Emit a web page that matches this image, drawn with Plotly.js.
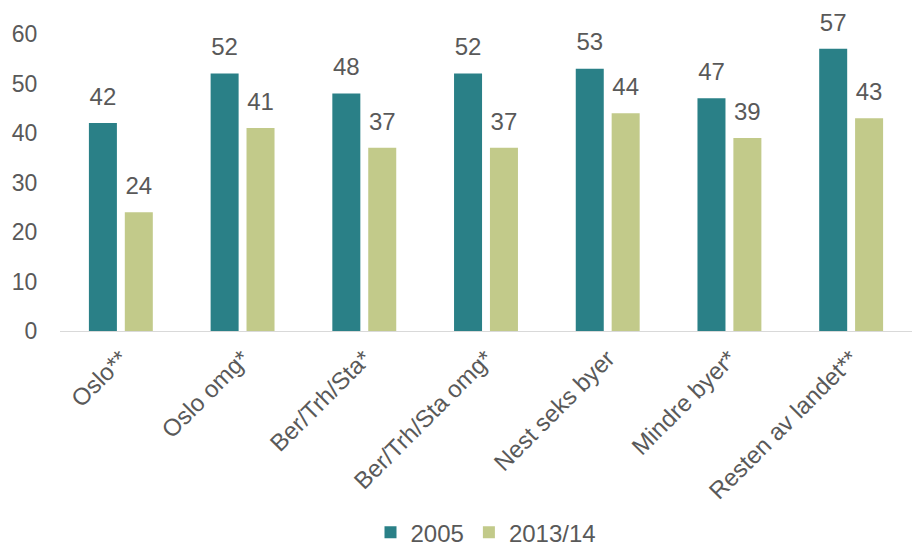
<!DOCTYPE html>
<html><head><meta charset="utf-8">
<script src="https://cdn.plot.ly/plotly-3.0.1.min.js"></script>
<style>body{margin:0;background:#fff}#c{width:914px;height:552px}</style>
</head><body><div id="c"></div>
<script>
const categories = ["Oslo**", "Oslo omg*", "Ber/Trh/Sta*", "Ber/Trh/Sta omg*", "Nest seks byer", "Mindre byer*", "Resten av landet**"];
const values2005 = [42, 52, 48, 52, 53, 47, 57];
const values2013 = [24, 41, 37, 37, 44, 39, 43];
const seriesNames = ["2005", "2013/14"];
const colors = ["#2A8087", "#C2CA8A"];
const txt = "#595959";
const font = {family: "Liberation Sans, Arial, sans-serif", color: txt};
const series = [values2005, values2013];
const traces = [];
series.forEach((vals, i) => {
  traces.push({type: "bar", name: seriesNames[i], x: categories, y: vals, marker: {color: colors[i]},
    offsetgroup: String(i), alignmentgroup: "a"});
});
series.forEach((vals, i) => {
  traces.push({type: "scatter", mode: "markers+text", x: categories, y: vals, text: vals.map(String),
    textposition: "top center", textfont: {size: 24, color: txt}, showlegend: false,
    offsetgroup: String(i), alignmentgroup: "a", cliponaxis: false, hoverinfo: "skip",
    marker: {size: 18, color: "rgba(0,0,0,0)"}});
});
const layout = {
  width: 914, height: 552,
  margin: {l: 60, r: 2, t: 34, b: 221},
  font: Object.assign({size: 23}, font),
  barmode: "group", scattermode: "group", bargap: 0.41, bargroupgap: 0.22, scattergap: 0.41,
  plot_bgcolor: "#fff", paper_bgcolor: "#fff",
  showlegend: true,
  legend: {orientation: "h", x: 0.5, xanchor: "center", yref: "container", y: 0.035, yanchor: "middle", font: {size: 24, color: txt}, traceorder: "normal"},
  xaxis: {tickangle: -45, showline: true, linecolor: "#D9D9D9", linewidth: 1, ticks: "", ticklabelstandoff: 3, tickfont: {size: 24, color: txt}, automargin: false},
  yaxis: {range: [0, 60], dtick: 10, showgrid: false, zeroline: false, showline: false, ticks: "outside", ticklen: 17, tickcolor: "rgba(0,0,0,0)", tickfont: {size: 23, color: txt}, automargin: false}
};
Plotly.newPlot("c", traces, layout, {displayModeBar: false, staticPlot: true});
</script></body></html>
